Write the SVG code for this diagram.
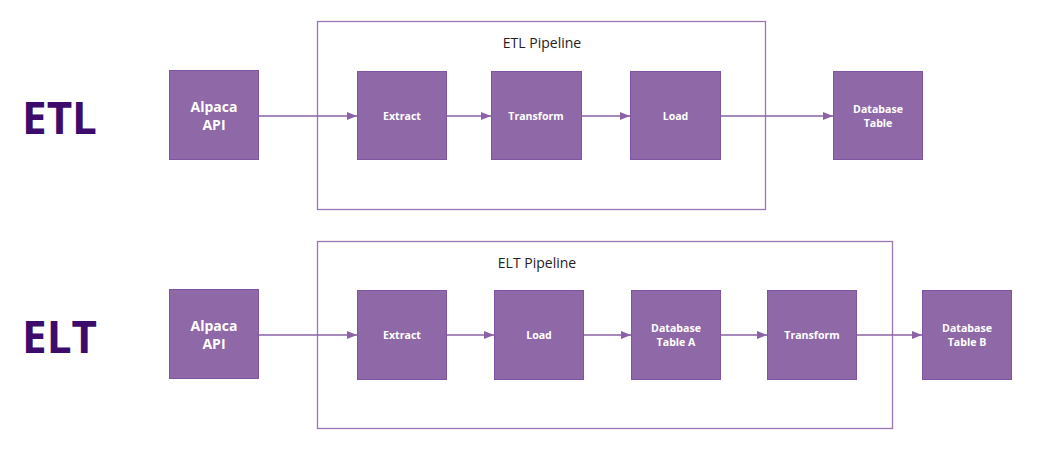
<svg xmlns="http://www.w3.org/2000/svg" width="1046" height="461" viewBox="0 0 1046 461">
<style>
.node{fill:#8F68A8;stroke:#7E55A0;stroke-width:1}
.lbl{font-family:"Open Sans","Liberation Sans",sans-serif;font-weight:bold;fill:#FFFFFF;text-anchor:middle;font-size:10.6px}
.big{font-size:14px}
.frame{fill:none;stroke:#9A76B3;stroke-width:1.3}
.ftitle{font-family:"Open Sans","Liberation Sans",sans-serif;font-size:14px;fill:#222222;text-anchor:middle}
.head{font-family:"Open Sans","Liberation Sans",sans-serif;font-weight:bold;font-size:44px;fill:#3D0B6B}
.edge{stroke:#8A62A5;stroke-width:1.3;fill:none}
</style>
<defs>
<marker id="arr" viewBox="0 0 10 8" refX="10" refY="4" markerWidth="11" markerHeight="8" markerUnits="userSpaceOnUse" orient="auto">
<path d="M0,0 L10,4 L0,8 Z" fill="#8A62A5"/>
</marker>
</defs>
<rect width="1046" height="461" fill="#FFFFFF"/>
<text class="head" x="22" y="134">ETL</text>
<text class="head" x="22" y="353">ELT</text>
<g id="etl-pipeline"><rect class="frame" x="317.5" y="21.5" width="448" height="188"/><text class="ftitle" x="542" y="48">ETL Pipeline</text></g>
<g id="elt-pipeline"><rect class="frame" x="317.5" y="241.5" width="575" height="187"/><text class="ftitle" x="537" y="268">ELT Pipeline</text></g>
<g id="connectors">
<path class="edge" d="M259,116 H357" marker-end="url(#arr)"/>
<path class="edge" d="M447,116 H491" marker-end="url(#arr)"/>
<path class="edge" d="M581,116 H630" marker-end="url(#arr)"/>
<path class="edge" d="M721,116 H833" marker-end="url(#arr)"/>
<path class="edge" d="M259,335 H357" marker-end="url(#arr)"/>
<path class="edge" d="M447,335 H494" marker-end="url(#arr)"/>
<path class="edge" d="M584,335 H631" marker-end="url(#arr)"/>
<path class="edge" d="M720,335 H767" marker-end="url(#arr)"/>
<path class="edge" d="M857,335 H922" marker-end="url(#arr)"/>
</g>
<g id="etl-alpaca"><rect class="node" x="169.5" y="70.5" width="89" height="89"/><text class="lbl big" x="214" y="112">Alpaca</text><text class="lbl big" x="214" y="130">API</text></g>
<g id="etl-extract"><rect class="node" x="357.5" y="71.5" width="89" height="88"/><text class="lbl" x="402" y="119.5">Extract</text></g>
<g id="etl-transform"><rect class="node" x="491.5" y="71.5" width="90" height="88"/><text class="lbl" x="536" y="119.5">Transform</text></g>
<g id="etl-load"><rect class="node" x="630.5" y="71.5" width="90" height="88"/><text class="lbl" x="675.5" y="119.5">Load</text></g>
<g id="etl-db"><rect class="node" x="833.5" y="71.5" width="89" height="88"/><text class="lbl" x="878" y="113">Database</text><text class="lbl" x="878" y="127">Table</text></g>
<g id="elt-alpaca"><rect class="node" x="169.5" y="289.5" width="89" height="89"/><text class="lbl big" x="214" y="331">Alpaca</text><text class="lbl big" x="214" y="349">API</text></g>
<g id="elt-extract"><rect class="node" x="357.5" y="290.5" width="89" height="89"/><text class="lbl" x="402" y="338.5">Extract</text></g>
<g id="elt-load"><rect class="node" x="494.5" y="290.5" width="89" height="89"/><text class="lbl" x="539" y="338.5">Load</text></g>
<g id="elt-dba"><rect class="node" x="631.5" y="290.5" width="89" height="89"/><text class="lbl" x="676" y="332">Database</text><text class="lbl" x="676" y="346">Table A</text></g>
<g id="elt-transform"><rect class="node" x="767.5" y="290.5" width="89" height="89"/><text class="lbl" x="812" y="338.5">Transform</text></g>
<g id="elt-dbb"><rect class="node" x="922.5" y="290.5" width="89" height="89"/><text class="lbl" x="967" y="332">Database</text><text class="lbl" x="967" y="346">Table B</text></g>
</svg>
